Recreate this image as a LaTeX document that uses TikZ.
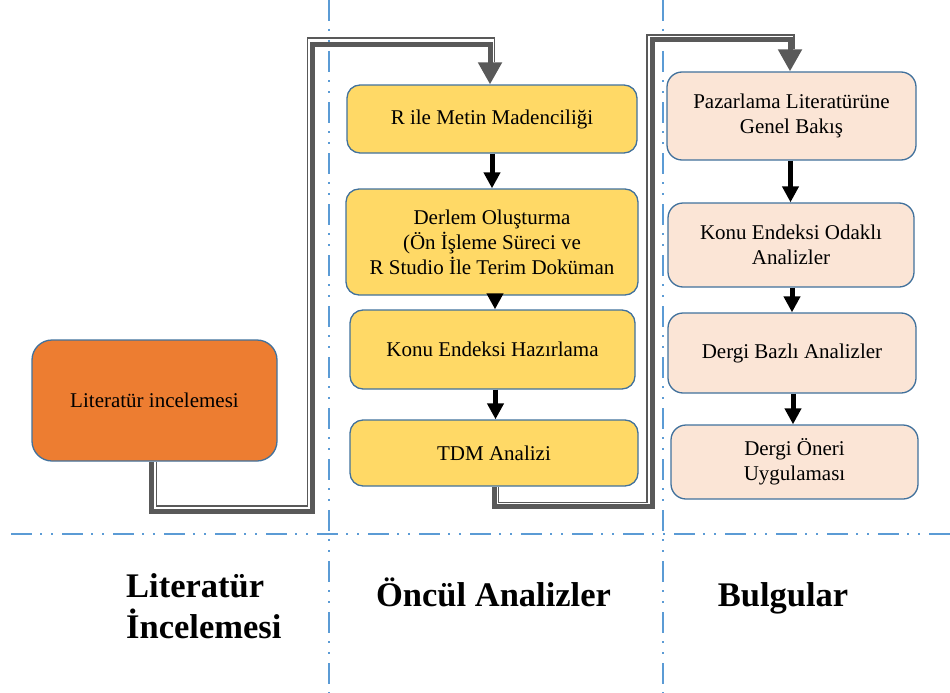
\documentclass[tikz,border=0pt]{standalone}
\usepackage{fontspec}
\setmainfont{Liberation Serif}
\usetikzlibrary{arrows.meta}
\definecolor{orangebox}{HTML}{ED7D31}
\definecolor{yellowbox}{HTML}{FFD966}
\definecolor{peachbox}{HTML}{FBE5D6}
\definecolor{boxline}{HTML}{41719C}
\definecolor{connline}{HTML}{595959}
\definecolor{sepline}{HTML}{5B9BD5}

\begin{document}
\begin{tikzpicture}[x=1pt, y=-1pt,
	box/.style={rectangle, rounded corners=13pt, draw=boxline, line width=1.3pt, align=center, inner sep=2pt, font=\fontsize{21}{25}\selectfont},
	head/.style={inner sep=0pt, font=\fontsize{34.5}{41}\selectfont\bfseries},
	sep/.style={sepline, line width=2pt, dash pattern=on 21pt off 8pt on 2pt off 9pt on 2pt off 9pt},
	thickconn/.style={connline, line width=5pt},
	thinconn/.style={connline, line width=1.5pt},
	grayarrow/.style={-{Triangle[width=23pt, length=22pt]}},
	blackarrow/.style={black, line width=5pt, -{Triangle[width=16pt, length=16pt]}}]
		\useasboundingbox (0,0) rectangle (950,693);

		\draw[sep] (329,0) -- (329,693);
		\draw[sep] (663,0) -- (663,693);
		\draw[sep] (11,534) -- (950,534);

		\draw
		(154.5,400.5) node [box, fill=orangebox, rounded corners=20pt, minimum width=245pt, minimum height=121pt] (lit) {Literatür incelemesi}
		(492,119) node [box, fill=yellowbox, minimum width=290pt, minimum height=68pt] (rmetin) {R ile Metin Madenciliği}
		(492,242) node [box, fill=yellowbox, minimum width=292pt, minimum height=106pt] (derlem) {Derlem Oluşturma\\(Ön İşleme Süreci ve\\R Studio İle Terim Doküman}
		(492.5,349.5) node [box, fill=yellowbox, minimum width=285pt, minimum height=79pt] (konuhaz) {Konu Endeksi Hazırlama}
		(494,453) node [box, fill=yellowbox, minimum width=288pt, minimum height=66pt] (tdm) {TDM Analizi};

		\draw
		(791.5,116) node [box, fill=peachbox, rounded corners=15pt, minimum width=249pt, minimum height=88pt] (pazar) {Pazarlama Literatürüne\\Genel Bakış}
		(791,245) node [box, fill=peachbox, rounded corners=15pt, minimum width=246pt, minimum height=84pt] (konuodak) {Konu Endeksi Odaklı\\Analizler}
		(792,353) node [box, fill=peachbox, rounded corners=15pt, minimum width=248pt, minimum height=80pt] (dergibaz) {Dergi Bazlı Analizler}
		(794.5,462) node [box, fill=peachbox, rounded corners=15pt, minimum width=247pt, minimum height=74pt] (dergioneri) {Dergi Öneri\\Uygulaması};

		\draw[blackarrow] (rmetin.south) -- (rmetin.south |- derlem.north);
		\draw[blackarrow] ([xshift=3pt]derlem.south) -- ([xshift=3pt]derlem.south |- konuhaz.north);
		\draw[blackarrow] ([xshift=3pt]konuhaz.south) -- ([xshift=3pt]konuhaz.south |- tdm.north);
		\draw[blackarrow] ([xshift=-1pt]pazar.south) -- ([xshift=-1pt]pazar.south |- konuodak.north);
		\draw[blackarrow] ([xshift=1pt]konuodak.south) -- ([xshift=1pt]konuodak.south |- dergibaz.north);
		\draw[blackarrow] ([xshift=1pt]dergibaz.south) -- ([xshift=1pt]dergibaz.south |- dergioneri.north);

		\coordinate (b1) at (312.5,511);
		\coordinate (t1) at (312.5,45);
		\coordinate (b1i) at (307.5,506);
		\coordinate (t1i) at (307.5,38);
		\draw[thickconn, grayarrow] ([xshift=-3pt]lit.south) |- (b1) -- (t1) -| ([xshift=-2pt]rmetin.north);
		\draw[thinconn, shorten >=22pt] ([xshift=2pt]lit.south) |- (b1i) -- (t1i) -| ([xshift=2.5pt]rmetin.north);

		\coordinate (b2) at (652.5,506.5);
		\coordinate (t2) at (652.5,40);
		\coordinate (b2i) at (647,502.5);
		\coordinate (t2i) at (647,35);
		\draw[thickconn, grayarrow] ([xshift=0.5pt]tdm.south) |- (b2) -- (t2) -| ([xshift=-1.5pt]pazar.north);
		\draw[thinconn, shorten >=22pt] ([xshift=4.5pt]tdm.south) |- (b2i) -- (t2i) -| ([xshift=2.5pt]pazar.north);

		\node[head, align=left, anchor=north west] (hlit) at (126,573) {Literatür\\İncelemesi};
		\node[head, anchor=base] (honcul) at (493.5,606) {Öncül Analizler};
		\node[head, anchor=base] (hbulgu) at (783,606) {Bulgular};
	\end{tikzpicture}
\end{document}
